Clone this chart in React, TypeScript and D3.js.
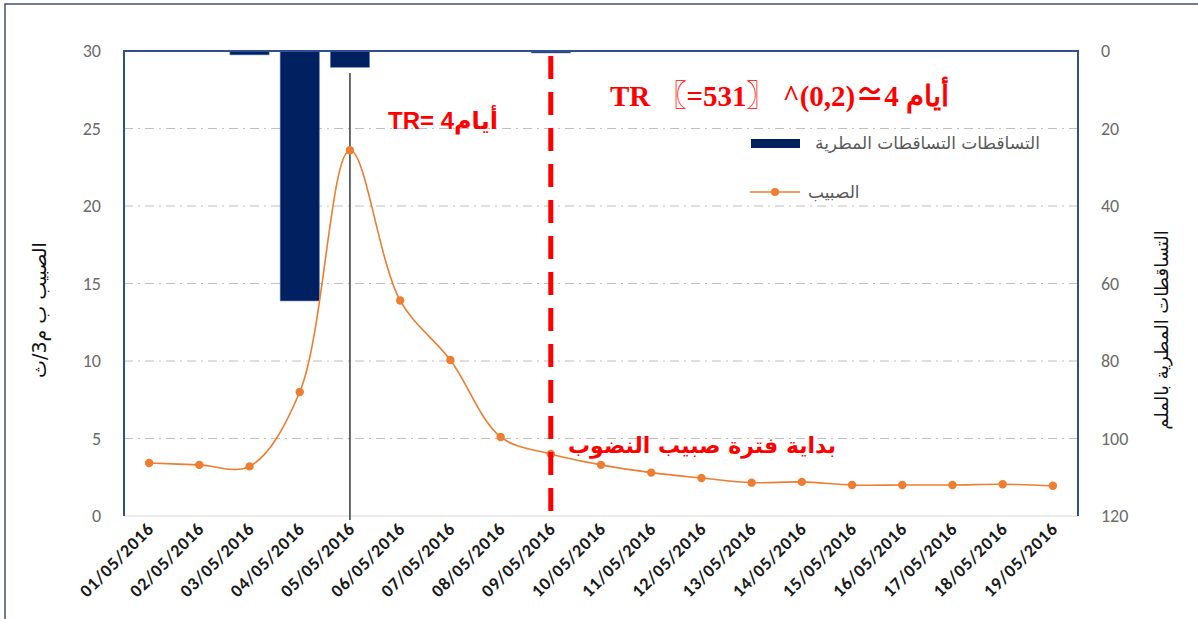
import React from "react";
import * as d3 from "d3";

const dates = ["01/05/2016","02/05/2016","03/05/2016","04/05/2016","05/05/2016","06/05/2016","07/05/2016","08/05/2016","09/05/2016","10/05/2016","11/05/2016","12/05/2016","13/05/2016","14/05/2016","15/05/2016","16/05/2016","17/05/2016","18/05/2016","19/05/2016"];
const flow = [3.42, 3.3, 3.2, 8.0, 23.6, 13.9, 10.06, 5.1, 4.0, 3.3, 2.8, 2.45, 2.15, 2.2, 2.0, 2.0, 2.0, 2.05, 1.95];
const rain = [0, 0, 1.0, 64.5, 4.2, 0, 0, 0, 0.5, 0, 0, 0, 0, 0, 0, 0, 0, 0, 0];
const leftTicks = [0, 5, 10, 15, 20, 25, 30];
const rightTicks = [0, 20, 40, 60, 80, 100, 120];
const peakDate = "05/05/2016";
const recessionDate = "09/05/2016";

const L = 124, R = 1078, T = 51, B = 516;

export default function App() {
  const x = d3.scaleBand<string>().domain(dates).range([L, R]).paddingInner(0.22).paddingOuter(0.11);
  const xc = (d: string) => (x(d) as number) + x.bandwidth() / 2;
  const y = d3.scaleLinear().domain([0, 30]).range([B, T]);
  const y2 = d3.scaleLinear().domain([0, 120]).range([T, B]);
  const line = d3.line<number>().x((_, i) => xc(dates[i])).y(v => y(v)).curve(d3.curveCatmullRom.alpha(0.5));
  const grey = "#595959";
  const axisFont = "Carlito, 'Liberation Sans', 'Open Sans', sans-serif";
  return (
    <svg width={1198} height={619} style={{ position: "absolute", left: 0, top: 0, background: "#fff" }}>
      <rect x={5} y={4} width={1300} height={700} fill="#fff" stroke="#44546A" strokeWidth={1.5} />
      {leftTicks.filter(t => t > 0 && t < 30).map(t => (
        <line key={t} x1={L} x2={R} y1={y(t)} y2={y(t)} stroke="#BFBFBF" strokeWidth={1} strokeDasharray="9,5,2,5" />
      ))}
      {rain.map((v, i) => v > 0 ? (
        <rect key={i} x={x(dates[i]) as number} y={y2(0)} width={x.bandwidth()} height={y2(v) - y2(0)} fill="#002060" stroke="#5B7BB5" strokeWidth={0.6} />
      ) : null)}
      <line x1={L} x2={R} y1={B} y2={B} stroke="#D9D9D9" strokeWidth={1.2} />
      <path d={`M${L},${B}V${T}H${R}V${B}`} fill="none" stroke="#2F4F8F" strokeWidth={2} />
      <line x1={xc(peakDate)} x2={xc(peakDate)} y1={73} y2={B + 4} stroke="#3a3a3a" strokeWidth={1.5} />
      <path d={line(flow) || ""} fill="none" stroke="#ED7D31" strokeWidth={1.6} />
      {flow.map((v, i) => (
        <circle key={i} cx={xc(dates[i])} cy={y(v)} r={4.2} fill="#ED7D31" />
      ))}
      <line x1={xc(recessionDate)} x2={xc(recessionDate)} y1={56} y2={B} stroke="#FF0000" strokeWidth={5} strokeDasharray="23,13" />
      {leftTicks.map(t => (
        <text key={t} x={101} y={y(t)} dy="0.35em" textAnchor="end" fontFamily={axisFont} fontSize={18} fill="#6b6b6b">{t}</text>
      ))}
      {rightTicks.map(t => (
        <text key={t} x={1101} y={y2(t)} dy="0.35em" textAnchor="start" fontFamily={axisFont} fontSize={18} fill="#6b6b6b">{t}</text>
      ))}
      {dates.map(d => (
        <text key={d} transform={`translate(${xc(d) + 6},${B + 14}) rotate(-45)`} textAnchor="end" fontFamily={axisFont} fontWeight="bold" fontSize={18} letterSpacing={0.8} fill="#1a1a1a">{d}</text>
      ))}
      <text transform={`translate(46,310) rotate(-90)`} textAnchor="middle" fontFamily="'DejaVu Sans', sans-serif" fontSize={19} fill="#111">الصبيب ب م3/ث</text>
      <text transform={`translate(1168,330) rotate(-90)`} textAnchor="middle" fontFamily="'DejaVu Sans', sans-serif" fontSize={18} fill="#111">التساقطات المطرية بالملم</text>
      <rect x={751} y={139} width={49} height={9} fill="#002060" />
      <text x={1040} y={149} textAnchor="end" fontFamily="'DejaVu Sans', sans-serif" fontSize={17} fill={grey}>التساقطات التساقطات المطرية</text>
      <line x1={750} x2={800} y1={192} y2={192} stroke="#ED7D31" strokeWidth={1.6} />
      <circle cx={775} cy={192} r={4} fill="#ED7D31" />
      <text x={808} y={198} textAnchor="start" fontFamily="'DejaVu Sans', sans-serif" fontSize={17} fill={grey}>الصبيب</text>
      <text x={388} y={129} fontFamily="'Liberation Sans', 'DejaVu Sans', sans-serif" fontWeight="bold" fontSize={24} fill="#FF0000">TR= 4أيام</text>
      <text x={610} y={106} fontFamily="'Liberation Serif', 'Noto Sans CJK SC', serif" fontWeight="bold" fontSize={29} fill="#FF0000">TR 〖=531〗 ^(0,2)≃4 أيام</text>
      <text x={568} y={453} fontFamily="'DejaVu Sans', sans-serif" fontWeight="bold" fontSize={22} fill="#FF0000">بداية فترة صبيب النضوب</text>
    </svg>
  );
}
